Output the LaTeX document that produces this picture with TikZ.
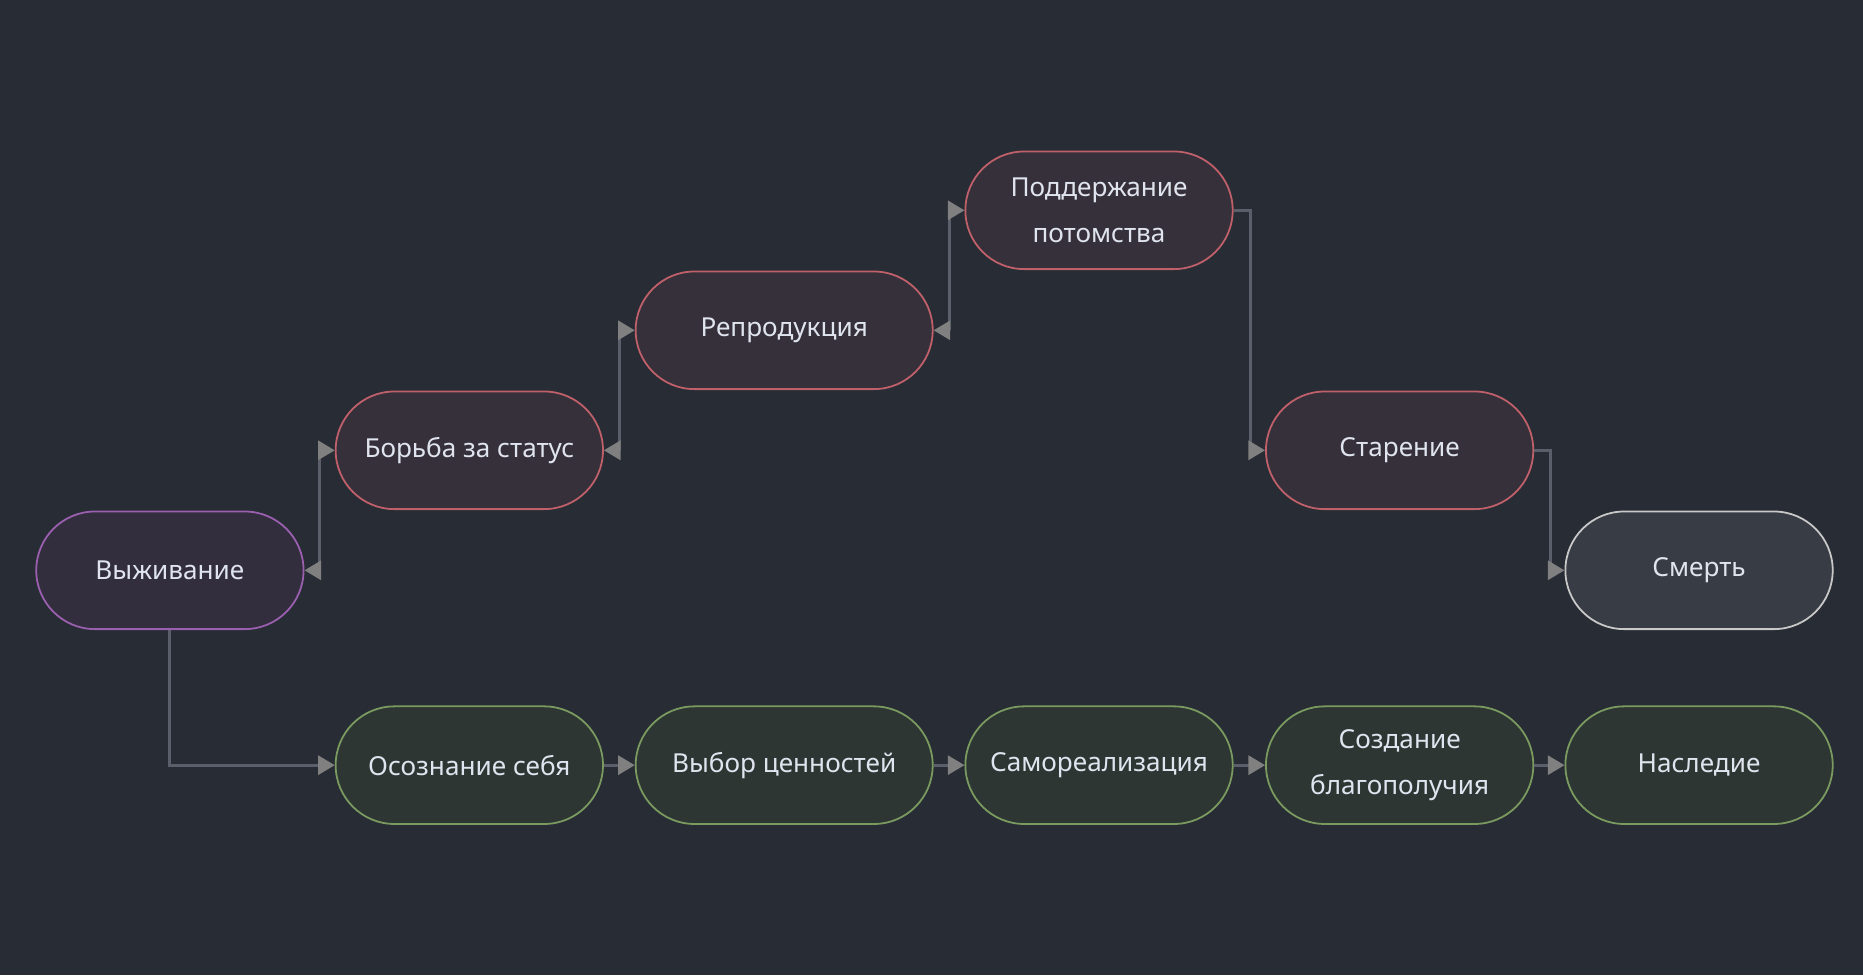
\documentclass[tikz,border=0pt]{standalone}
\usepackage{fontspec}
\setmainfont{Noto Sans}
\usetikzlibrary{arrows.meta}
\definecolor{bg}{HTML}{282C34}
\definecolor{edge}{HTML}{5A5F6B}
\definecolor{tip}{HTML}{808080}
\definecolor{txt}{HTML}{E0E4EE}
\tikzset{
  base/.style={rounded corners=49.5pt, minimum height=99pt, line width=1.5pt, text=txt, font=\fontsize{22}{38}\selectfont, align=center, inner sep=0pt},
  purp/.style={base, draw=HTML9B5FB0, fill=HTML332E3E},
  redn/.style={base, draw=HTMLC0606A, fill=HTML35303A},
  grayn/.style={base, draw=HTMLC8C8C8, fill=HTML383C44},
  grn/.style={base, draw=HTML7A9A60, fill=HTML2E3634},
  conn/.style={draw=edge, line width=2.5pt, -{Triangle[length=14pt,width=16pt,color=tip]}},
  bconn/.style={draw=edge, line width=2.5pt, {Triangle[length=14pt,width=16pt,color=tip]}-{Triangle[length=14pt,width=16pt,color=tip]}},
}
\definecolor{HTML9B5FB0}{HTML}{9B5FB0}\definecolor{HTML332E3E}{HTML}{332E3E}
\definecolor{HTMLC0606A}{HTML}{C0606A}\definecolor{HTML35303A}{HTML}{35303A}
\definecolor{HTMLC8C8C8}{HTML}{C8C8C8}\definecolor{HTML383C44}{HTML}{383C44}
\definecolor{HTML7A9A60}{HTML}{7A9A60}\definecolor{HTML2E3634}{HTML}{2E3634}
\begin{document}
\begin{tikzpicture}[x=1pt,y=-1pt]
\fill[bg] (0,0) rectangle (1568,821);
\useasboundingbox (0,0) rectangle (1568,821);
\node[purp, minimum width=225pt] (a) at (143,480) {Выживание};
\node[redn, minimum width=225pt] (b) at (395,379) {Борьба за статус};
\node[redn, minimum width=250pt] (c) at (660,278) {Репродукция};
\node[redn, minimum width=225pt] (d) at (925,177) {Поддержание\\потомства};
\node[redn, minimum width=225pt] (e) at (1178,379) {Старение};
\node[grayn, minimum width=225pt] (f) at (1430,480) {Смерть};
\node[grn, minimum width=225pt] (g) at (395,644) {Осознание себя};
\node[grn, minimum width=250pt] (h) at (660,644) {Выбор ценностей};
\node[grn, minimum width=225pt] (i) at (925,644) {Самореализация};
\node[grn, minimum width=225pt] (j) at (1178,644) {Создание\\благополучия};
\node[grn, minimum width=225pt] (k) at (1430,644) {Наследие};
\draw[bconn] (a.east) -- ++(13,0) |- (b.west);
\draw[bconn] (b.east) -- ++(13,0) |- (c.west);
\draw[bconn] (c.east) -- ++(13,0) |- (d.west);
\draw[conn] (d.east) -- ++(14,0) |- (e.west);
\draw[conn] (e.east) -- ++(14,0) |- (f.west);
\draw[conn] (a.south) |- (g.west);
\draw[conn] (g) -- (h);
\draw[conn] (h) -- (i);
\draw[conn] (i) -- (j);
\draw[conn] (j) -- (k);
\end{tikzpicture}
\end{document}
